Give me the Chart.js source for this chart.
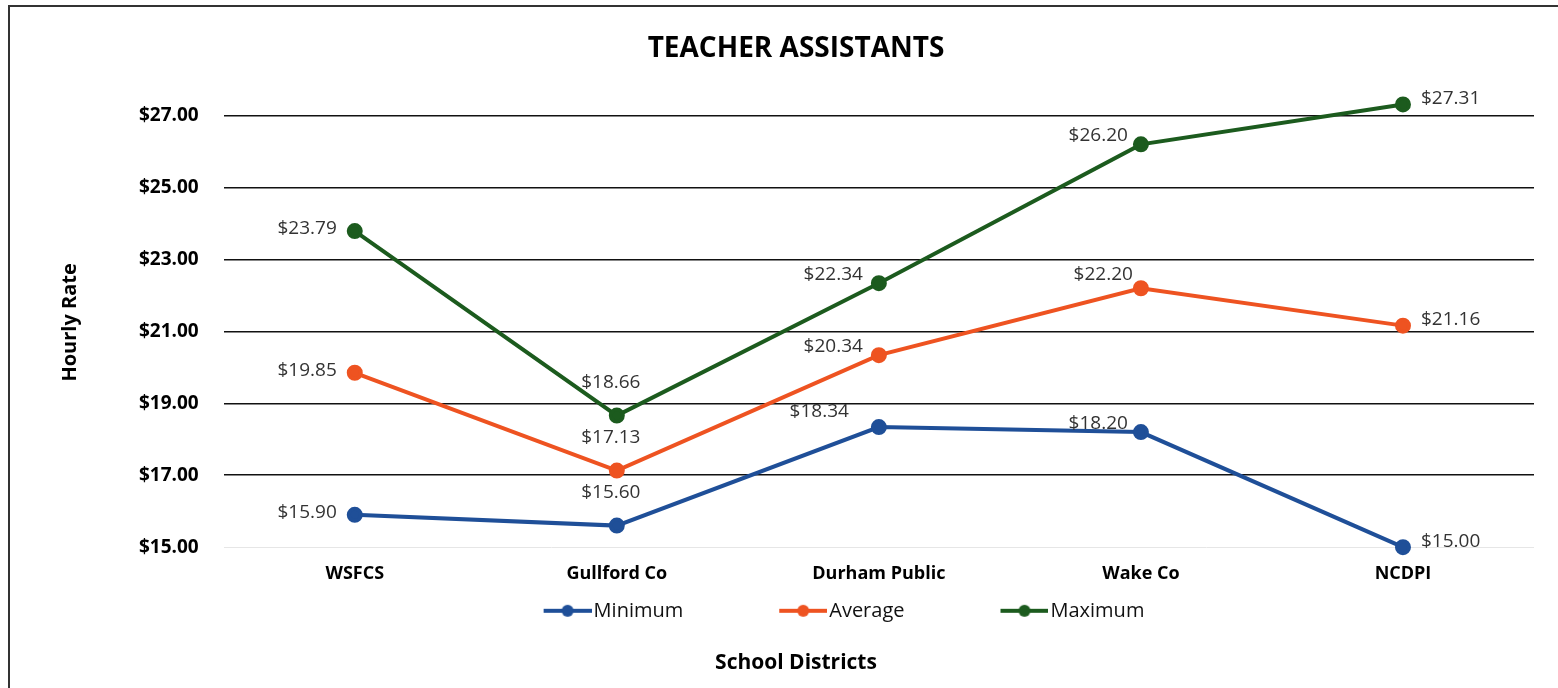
<!DOCTYPE html>
<html lang="en">
<head>
  <meta charset="UTF-8">
  <title>Teacher Assistants</title>
  <script src="https://cdn.jsdelivr.net/npm/chart.js"></script>
  <style>
    html, body { margin: 0; padding: 0; background: #fff; }
    #frame {
      position: absolute; left: 8px; top: 5px; width: 1560px; height: 700px;
      border-top: 2px solid #333; border-left: 2px solid #333;
    }
    #wrap { position: absolute; left: 0; top: 0; width: 1558px; height: 688px; }
  </style>
</head>
<body>
  <div id="frame"></div>
  <div id="wrap"><canvas id="payChart"></canvas></div>

  <script>
    // 데이터
    const districts = ["WSFCS", "Gullford Co", "Durham Public", "Wake Co", "NCDPI"];
    const minimumRates = [15.90, 15.60, 18.34, 18.20, 15.00];
    const averageRates = [19.85, 17.13, 20.34, 22.20, 21.16];
    const maximumRates = [23.79, 18.66, 22.34, 26.20, 27.31];
    const yTicks = [15, 17, 19, 21, 23, 25, 27];

    // label placement per point (style only)
    const minLabelPos = ["left", "above", "aboveLeftFar", "leftUp", "right"];
    const avgLabelPos = ["left", "above", "aboveLeft", "upLeft", "right"];
    const maxLabelPos = ["left", "above", "aboveLeft", "leftUp", "right"];

    const money = v => "$" + v.toFixed(2);

    // legend marker: line + dot, transparent room on the left works as item spacing
    const BOX_W = 136;
    function legendMarker(color) {
      const c = document.createElement("canvas");
      c.width = BOX_W + 16; c.height = 14;
      const g = c.getContext("2d");
      const end = c.width;
      g.strokeStyle = color; g.lineWidth = 4;
      g.beginPath(); g.moveTo(end - 48, 7); g.lineTo(end, 7); g.stroke();
      g.fillStyle = color;
      g.beginPath(); g.arc(end - 24, 7, 6, 0, Math.PI * 2); g.fill();
      return c;
    }

    // 라벨 위치 오프셋
    const labelOffsets = {
      left:         { align: "right",  dx: -18, dy: -2 },
      leftUp:       { align: "right",  dx: -13, dy: -9 },
      upLeft:       { align: "right",  dx: -8,  dy: -14 },
      above:        { align: "center", dx: -6,  dy: -33 },
      aboveLeft:    { align: "right",  dx: -16, dy: -9 },
      aboveLeftFar: { align: "right",  dx: -30, dy: -15 },
      right:        { align: "left",   dx: 18,  dy: -6 },
    };

    const pointLabels = {
      id: "pointLabels",
      afterDatasetsDraw(chart) {
        const ctx = chart.ctx;
        ctx.save();
        ctx.font = "19px 'Open Sans', sans-serif";
        ctx.fillStyle = "#333";
        ctx.textBaseline = "middle";
        chart.data.datasets.forEach((ds, i) => {
          const meta = chart.getDatasetMeta(i);
          meta.data.forEach((pt, j) => {
            const o = labelOffsets[ds.labelPos[j]];
            ctx.textAlign = o.align;
            ctx.fillText(money(ds.data[j]), pt.x + o.dx, pt.y + o.dy);
          });
        });
        ctx.restore();
      }
    };

    function series(label, data, color, labelPos) {
      return {
        label: label,
        data: data,
        labelPos: labelPos,
        borderColor: color,
        backgroundColor: color,
        borderWidth: 4,
        pointRadius: 6,
        pointBackgroundColor: color,
        pointBorderColor: color,
        tension: 0,
        clip: false,
        fill: false,
      };
    }

    const ctx = document.getElementById("payChart").getContext("2d");
    new Chart(ctx, {
      type: "line",
      data: {
        labels: districts,
        datasets: [
          series("Minimum", minimumRates, "#1f4f98", minLabelPos),
          series("Average", averageRates, "#ee5321", avgLabelPos),
          series("Maximum", maximumRates, "#1c5b1e", maxLabelPos),
        ],
      },
      options: {
        responsive: true,
        maintainAspectRatio: false,
        animation: false,
        layout: { padding: { left: 58, right: 24, top: 0, bottom: 8 } },
        plugins: {
          tooltip: { enabled: false },
          title: {
            display: true,
            text: "TEACHER ASSISTANTS",
            color: "#000",
            font: { family: "'Open Sans', sans-serif", size: 28, weight: "bold" },
            padding: { top: 32, bottom: 32 },
          },
          legend: {
            position: "bottom",
            labels: {
              usePointStyle: true,
              pointStyleWidth: BOX_W,
              color: "#111",
              padding: 0,
              font: { family: "'Open Sans', sans-serif", size: 20 },
              generateLabels(chart) {
                return chart.data.datasets.map((ds, i) => ({
                  text: ds.label,
                  fillStyle: ds.borderColor,
                  strokeStyle: ds.borderColor,
                  fontColor: "#111",
                  lineWidth: 0,
                  pointStyle: legendMarker(ds.borderColor),
                  hidden: false,
                  datasetIndex: i,
                }));
              },
            },
          },
          subtitle: {
            display: true,
            position: "bottom",
            text: "School Districts",
            color: "#000",
            font: { family: "'Open Sans', sans-serif", size: 21, weight: "bold" },
            padding: { top: 20, bottom: 4 },
          },
        },
        scales: {
          x: {
            offset: true,
            grid: { display: false, drawTicks: false },
            border: { display: false },
            ticks: {
              color: "#000",
              padding: 16,
              font: { family: "'Open Sans', sans-serif", size: 18, weight: "bold" },
            },
          },
          y: {
            min: 15,
            max: 27.5,
            afterBuildTicks: axis => { axis.ticks = yTicks.map(v => ({ value: v })); },
            border: { display: false },
            grid: {
              drawTicks: false,
              lineWidth: ctx => (ctx.tick && ctx.tick.value === 15 ? 1 : 1.6),
              color: ctx => (ctx.tick && ctx.tick.value === 15 ? "#e6e6e6" : "#111"),
            },
            ticks: {
              color: "#000",
              padding: 25,
              callback: v => money(v),
              font: { family: "'Open Sans', sans-serif", size: 19, weight: "bold" },
            },
            title: {
              display: true,
              text: "Hourly Rate",
              color: "#000",
              font: { family: "'Open Sans', sans-serif", size: 20, weight: "bold" },
              padding: { top: 0, bottom: 32 },
            },
          },
        },
      },
      plugins: [pointLabels],
    });
  </script>
</body>
</html>
